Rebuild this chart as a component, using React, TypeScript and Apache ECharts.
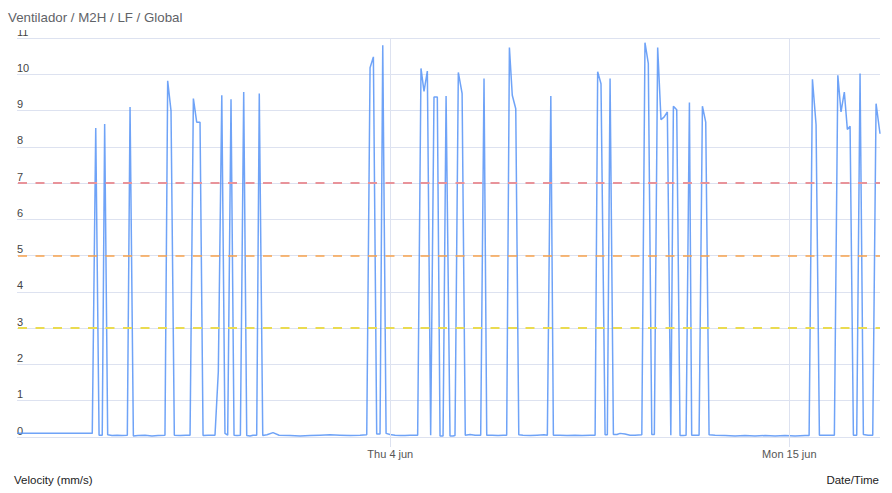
import React, { useEffect, useRef } from "react";
import * as echarts from "echarts";

// Time origin of the plotted range (UTC) and sample offsets in hours from it
const startTime = Date.UTC(2020, 4, 24, 17);
const rangeHours = 571;

const hours = [
  0, 49.8, 52.1, 54.3, 56.4, 58.0, 60.0, 62.9, 66.2, 69.5, 73.0,
  74.8, 77.0, 80.1, 84.7, 89.3, 93.3, 97.9,
  99.7, 101.9, 104.1, 107.9, 111.8, 114.5,
  116.7, 118.9, 121.1, 123.1, 126.4, 131.0,
  133.2, 135.5, 137.6, 139.4, 141.6, 143.6, 145.6, 147.8, 150.0, 152.0, 154.2, 156.2, 158.6, 160.3, 162.6,
  165.4, 169.4, 173.4, 180.6, 187.3, 193.9, 200.5, 207.1, 213.7, 220.4, 227.0, 231.4,
  233.6, 235.8, 238.0, 240.2, 242.0, 244.2,
  246.8, 250.1, 253.4, 256.7, 260.0, 262.7, 265.1,
  267.3, 269.3, 271.5, 273.7, 275.9, 278.1, 279.9, 281.9, 283.9, 286.5, 288.5, 289.8,
  292.0, 294.5, 296.6, 299.8, 303.1, 306.8, 309.0, 310.8, 314.3, 318.3, 321.6, 324.0,
  325.8, 327.7, 330.0, 332.0, 334.8, 339.5, 344.1, 348.7, 350.9,
  353.2, 354.9, 359.3, 363.9, 369.2, 373.9, 379.2, 382.5,
  384.2, 386.4, 389.1, 390.6, 392.4, 394.6, 397.0, 399.0, 402.3, 405.6, 408.9, 413.4,
  415.5, 417.7, 420.0, 421.7, 423.9, 426.1, 428.1, 430.3, 432.6,
  434.3, 436.5, 438.7, 440.7, 442.7, 444.9, 446.4, 448.6, 451.3,
  453.5, 455.7, 457.9, 461.9, 468.5, 475.1, 481.7, 488.3, 495.0, 501.6, 508.2, 514.8, 521.4, 524.1,
  526.3, 528.7, 530.9, 534.7, 538.0, 540.8,
  543.1, 545.2, 547.4, 549.4, 551.2, 553.4, 555.6,
  557.8, 560.0, 563.1, 566.2, 568.4, 571.0,
];

const velocity = [
  0.10, 0.10, 8.52, 0.05, 0.05, 8.63, 0.06, 0.04, 0.05, 0.04, 0.05,
  9.10, 0.03, 0.04, 0.05, 0.03, 0.04, 0.05,
  9.82, 9.00, 0.05, 0.04, 0.05, 0.05,
  9.33, 8.68, 8.68, 0.04, 0.05, 0.05,
  1.80, 9.42, 0.10, 0.05, 9.31, 0.05, 0.04, 0.05, 9.51, 0.04, 0.03, 0.05, 0.05, 9.47, 0.04,
  0.06, 0.12, 0.05, 0.04, 0.03, 0.04, 0.05, 0.06, 0.05, 0.04, 0.05, 0.06,
  10.18, 10.48, 0.08, 0.08, 10.80, 0.10,
  0.07, 0.05, 0.04, 0.04, 0.05, 0.05, 0.05,
  10.16, 9.53, 10.09, 0.05, 9.37, 9.37, 0.03, 0.03, 9.40, 0.03, 0.03, 0.04,
  10.05, 9.47, 0.05, 0.07, 0.05, 0.05, 9.88, 0.05, 0.05, 0.04, 0.05, 0.05,
  10.74, 9.42, 9.05, 0.06, 0.05, 0.04, 0.05, 0.06, 0.05,
  9.40, 0.05, 0.05, 0.04, 0.05, 0.04, 0.05, 0.05,
  10.07, 9.74, 0.06, 0.06, 9.88, 0.07, 0.07, 0.10, 0.08, 0.05, 0.05, 0.06,
  10.87, 10.30, 0.07, 0.07, 10.74, 8.75, 8.82, 8.96, 0.05,
  9.12, 9.02, 0.04, 0.04, 0.05, 9.22, 0.05, 0.05, 0.05,
  9.12, 8.68, 0.06, 0.05, 0.04, 0.03, 0.04, 0.03, 0.04, 0.03, 0.04, 0.03, 0.04, 0.04,
  9.86, 8.61, 0.05, 0.05, 0.05, 0.05,
  9.97, 8.96, 9.51, 8.48, 8.57, 0.05, 0.05,
  10.02, 0.07, 0.05, 0.05, 9.19, 8.36,
];

const yTicks = { min: 0, max: 11, step: 1 };
const dateTicks = [Date.UTC(2020, 5, 4), Date.UTC(2020, 5, 15)];
const thresholdValues = [7, 5, 3];
const thresholdColors = ["#e8939a", "#f7a24c", "#eadb50"];
const thresholdWidths = [2, 1.5, 2];

const dayNames = ["Sun", "Mon", "Tue", "Wed", "Thu", "Fri", "Sat"];
const monthNames = ["jan", "feb", "mar", "apr", "may", "jun", "jul", "aug", "sep", "oct", "nov", "dec"];

const FONT = "'Liberation Sans', Arial, sans-serif";
const HOUR = 3600000;

export default function App() {
  const ref = useRef<HTMLDivElement>(null);
  useEffect(() => {
    if (!ref.current) return;
    const chart = echarts.init(ref.current, undefined, { renderer: "svg" });
    const data = hours.map((h, i) => [h, velocity[i]]);
    const tickHours = dateTicks.map((t) => (t - startTime) / HOUR);
    const gridColor = "#dde2f0";
    chart.setOption({
      animation: false,
      backgroundColor: "#ffffff",
      textStyle: { fontFamily: FONT },
      title: {
        text: "Ventilador / M2H / LF / Global",
        left: 8,
        top: 11,
        padding: 0,
        textStyle: { fontSize: 13.3, fontWeight: "normal", color: "#5f6368", fontFamily: FONT },
      },
      grid: { left: 17, right: 12, top: 38, bottom: 56, containLabel: false },
      xAxis: {
        type: "value",
        min: 0,
        max: rangeHours,
        axisLine: { show: false },
        splitLine: { show: false },
        axisTick: {
          show: true,
          customValues: tickHours,
          length: 10,
          inside: false,
          lineStyle: { color: gridColor, width: 1 },
        },
        axisLabel: {
          customValues: tickHours,
          margin: 11,
          fontSize: 11,
          color: "#555",
          fontFamily: FONT,
          formatter: (v: number) => {
            const d = new Date(startTime + v * HOUR);
            return `${dayNames[d.getUTCDay()]} ${d.getUTCDate()} ${monthNames[d.getUTCMonth()]}`;
          },
        },
      },
      yAxis: {
        type: "value",
        min: yTicks.min,
        max: yTicks.max,
        interval: yTicks.step,
        axisLine: { show: false },
        axisTick: { show: false },
        splitLine: { show: true, lineStyle: { color: gridColor, width: 1 } },
        axisLabel: {
          inside: true,
          margin: 0,
          fontSize: 11,
          color: "#444",
          fontFamily: FONT,
          verticalAlign: "bottom",
          lineHeight: 13,
        },
      },
      graphic: [
        {
          type: "rect",
          z: 100,
          shape: { x: 15, y: 24.5, width: 22, height: 5.5 },
          style: { fill: "#ffffff" },
          silent: true,
        },
        {
          type: "text",
          left: 14,
          top: 474,
          style: { text: "Velocity (mm/s)", fontSize: 11.5, fill: "#222", fontFamily: FONT },
        },
        {
          type: "text",
          right: 13,
          top: 474,
          style: { text: "Date/Time", fontSize: 11.5, fill: "#222", fontFamily: FONT },
        },
      ],
      series: [
        {
          type: "line",
          data: [],
          z: 1,
          markLine: {
            silent: true,
            symbol: "none",
            label: { show: false },
            data: tickHours.map((t) => ({ xAxis: t, lineStyle: { color: gridColor, width: 1, type: "solid" } })),
          },
        },
        {
          type: "line",
          data: [],
          z: 2,
          markLine: {
            silent: true,
            symbol: "none",
            label: { show: false },
            data: thresholdValues.map((v, i) => ({
              yAxis: v,
              lineStyle: { color: thresholdColors[i], width: thresholdWidths[i], type: [9, 8.5], dashOffset: -1 },
            })),
          },
        },
        {
          type: "line",
          name: "Velocity",
          data,
          z: 3,
          showSymbol: false,
          symbol: "none",
          lineStyle: { color: "#4f8ff5", width: 1.5, opacity: 0.82 },
        },
      ],
    });
    return () => chart.dispose();
  }, []);
  return <div ref={ref} style={{ width: 892, height: 493, position: "absolute", left: 0, top: 0 }} />;
}
